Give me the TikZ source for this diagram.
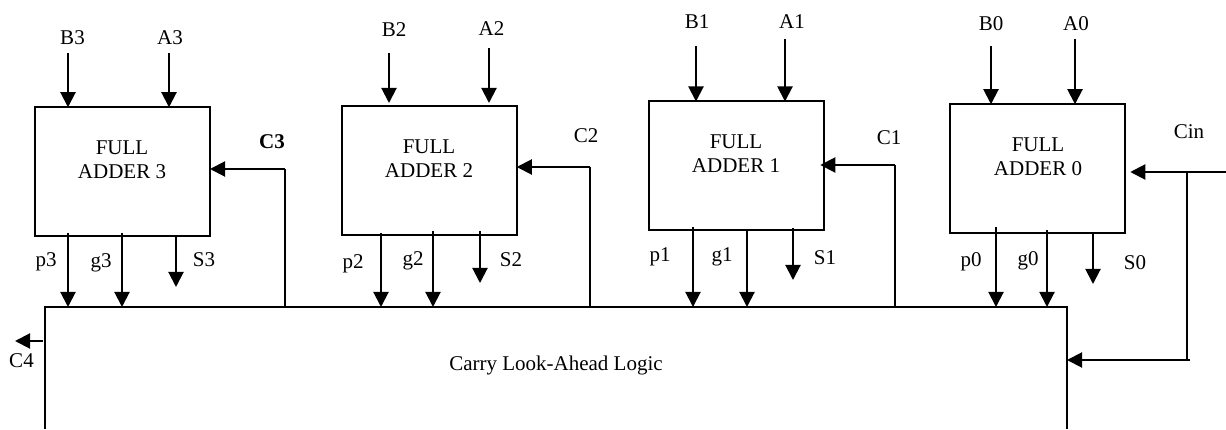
\documentclass[tikz,border=0pt]{standalone}
\usepackage{fontspec}
\setmainfont{Liberation Serif}
\usetikzlibrary{arrows.meta}
\tikzset{
  fabox/.style={draw=black,line width=2pt,minimum width=175pt,minimum height=129pt,inner sep=0pt,outer sep=0pt},
  clabox/.style={inner sep=0pt,outer sep=0pt,minimum width=1022pt,minimum height=122pt},
  wire/.style={draw=black,line width=2pt},
  arr/.style={draw=black,line width=2pt,-{Triangle[length=15pt,width=15pt]}},
  txt/.style={inner sep=0pt,font=\fontsize{21}{24}\selectfont,align=center,yshift=-1pt}
}
\begin{document}
\begin{tikzpicture}[x=1pt,y=-1pt]
\useasboundingbox (0,0) rectangle (1226,430);
% boxes
\node[fabox] (fa3) at (122.5,171.75) {};
\node[fabox] (fa2) at (429.25,170.5) {};
\node[fabox] (fa1) at (736.25,166) {};
\node[fabox] (fa0) at (1037.75,168.75) {};
\node[clabox] (cla) at (556,368) {};
\draw[wire] (cla.south west) -- (cla.north west) -- (cla.north east) -- (cla.south east);
% box texts
\node[txt] (t3) at (122,159) {FULL\\ADDER 3};
\node[txt] (t2) at (429,158) {FULL\\ADDER 2};
\node[txt] (t1) at (736,153) {FULL\\ADDER 1};
\node[txt] (t0) at (1038,156) {FULL\\ADDER 0};
\node[txt] (tc) at (556,364) {Carry Look-Ahead Logic};
% free ends
\coordinate (b3s) at (68,53);   \coordinate (a3s) at (169,53);
\coordinate (b2s) at (389,53);  \coordinate (a2s) at (489,48);
\coordinate (b1s) at (696,46);  \coordinate (a1s) at (785,39);
\coordinate (b0s) at (991,46);  \coordinate (a0s) at (1075,39);
\coordinate (p3s) at (68,233);  \coordinate (g3s) at (122,233);  \coordinate (s3s) at (176,236); \coordinate (s3e) at (176,287);
\coordinate (p2s) at (381,233); \coordinate (g2s) at (433,231);  \coordinate (s2s) at (480,231); \coordinate (s2e) at (480,283);
\coordinate (p1s) at (693,227); \coordinate (g1s) at (747,230);  \coordinate (s1s) at (793,228); \coordinate (s1e) at (793,280);
\coordinate (p0s) at (996,227); \coordinate (g0s) at (1047,230); \coordinate (s0s) at (1093,233); \coordinate (s0e) at (1093,284);
\coordinate (c3b) at (285,169); \coordinate (c2b) at (590,167);  \coordinate (c1b) at (895,165);
\coordinate (cins) at (1226,172); \coordinate (cinj) at (1187,172); \coordinate (cinb) at (1187,360); \coordinate (cine) at (1190,360);
\coordinate (c4s) at (43,341); \coordinate (c4e) at (15,341);
% inputs
\draw[arr] (b3s) -- (b3s |- fa3.north);
\draw[arr] (a3s) -- (a3s |- fa3.north);
\draw[arr,shorten >=3pt] (b2s) -- (b2s |- fa2.north);
\draw[arr,shorten >=3pt] (a2s) -- (a2s |- fa2.north);
\draw[arr] (b1s) -- (b1s |- fa1.north);
\draw[arr] (a1s) -- (a1s |- fa1.north);
\draw[arr] (b0s) -- (b0s |- fa0.north);
\draw[arr] (a0s) -- (a0s |- fa0.north);
% outputs to CLA
\foreach \n in {p3,g3,p2,g2,p1,g1,p0,g0}{
  \draw[arr] (\n s) -- (\n s |- cla.north);
}
% sums
\draw[arr] (s3s) -- (s3e);
\draw[arr] (s2s) -- (s2e);
\draw[arr] (s1s) -- (s1e);
\draw[arr] (s0s) -- (s0e);
% carries
\draw[wire] (c3b |- cla.north) -- (c3b);
\draw[wire] (c2b |- cla.north) -- (c2b);
\draw[wire] (c1b |- cla.north) -- (c1b);
\draw[arr] (c3b) -- (c3b -| fa3.east);
\draw[arr] (c2b) -- (c2b -| fa2.east);
\draw[arr,shorten >=-3.5pt] (c1b) -- (c1b -| fa1.east);
\draw[arr,shorten >=5pt] (cins) -- (cins -| fa0.east);
\draw[wire] (cinj) -- (cinb);
\draw[arr] (cine) -- (cine -| cla.east);
\draw[arr] (c4s) -- (c4e);
% labels
\node[txt] (lb3) at (72.5,37) {B3};   \node[txt] (la3) at (170,37) {A3};
\node[txt] (lb2) at (394,29) {B2};    \node[txt] (la2) at (491.5,28) {A2};
\node[txt] (lb1) at (697,21) {B1};    \node[txt] (la1) at (792,21) {A1};
\node[txt] (lb0) at (991,23) {B0};    \node[txt] (la0) at (1076,23) {A0};
\node[txt] (lc3) at (272,141) {\textbf{C3}};
\node[txt] (lc2) at (586,135) {C2};
\node[txt] (lc1) at (889,137) {C1};
\node[txt] (lcin) at (1189,131) {Cin};
\node[txt] (lc4) at (21.5,360) {C4};
\node[txt] (lp3) at (46,261) {p3}; \node[txt] (lg3) at (101,262) {g3}; \node[txt] (ls3) at (204,259) {S3};
\node[txt] (lp2) at (353,263) {p2}; \node[txt] (lg2) at (413,260) {g2}; \node[txt] (ls2) at (511,259) {S2};
\node[txt] (lp1) at (660,256) {p1}; \node[txt] (lg1) at (722,256) {g1}; \node[txt] (ls1) at (825,257) {S1};
\node[txt] (lp0) at (971,261) {p0}; \node[txt] (lg0) at (1028,260) {g0}; \node[txt] (ls0) at (1135,262) {S0};
\end{tikzpicture}
\end{document}
